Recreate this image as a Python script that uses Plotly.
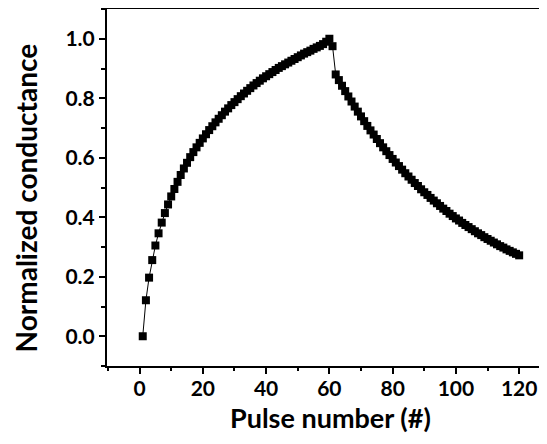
import plotly.graph_objects as go

pulse = list(range(1, 121))

potentiation = [
    0.000, 0.121, 0.197, 0.256, 0.305, 0.346, 0.382, 0.414, 0.443, 0.470,
    0.495, 0.519, 0.542, 0.564, 0.583, 0.602, 0.619, 0.635, 0.650, 0.665,
    0.679, 0.693, 0.706, 0.719, 0.731, 0.743, 0.755, 0.766, 0.777, 0.787,
    0.797, 0.807, 0.816, 0.825, 0.834, 0.843, 0.851, 0.859, 0.867, 0.874,
    0.881, 0.888, 0.895, 0.902, 0.908, 0.914, 0.920, 0.926, 0.932, 0.938,
    0.944, 0.950, 0.955, 0.960, 0.966, 0.971, 0.976, 0.982, 0.990, 1.000,
]

depression = [
    0.975, 0.880, 0.861, 0.842, 0.824, 0.806, 0.789, 0.772, 0.755, 0.739,
    0.723, 0.707, 0.692, 0.678, 0.663, 0.649, 0.635, 0.622, 0.609, 0.596,
    0.584, 0.572, 0.560, 0.548, 0.537, 0.526, 0.515, 0.505, 0.494, 0.484,
    0.475, 0.465, 0.456, 0.447, 0.438, 0.429, 0.421, 0.412, 0.404, 0.396,
    0.389, 0.381, 0.374, 0.367, 0.360, 0.353, 0.346, 0.340, 0.333, 0.327,
    0.321, 0.315, 0.309, 0.303, 0.298, 0.292, 0.287, 0.282, 0.277, 0.272,
]

conductance = potentiation + depression

x_ticks = [0, 20, 40, 60, 80, 100, 120]
y_ticks = [0.0, 0.2, 0.4, 0.6, 0.8, 1.0]

x_title = "Pulse number (#)"
y_title = "Normalized conductance"

tick_font = dict(family="Lato", size=21, color="black", weight="bold")
title_font = dict(family="Lato", size=27, color="black", weight="bold")
ytitle_font = dict(family="Lato", size=28, color="black", weight="bold")

fig = go.Figure()
fig.add_trace(go.Scatter(
    x=pulse, y=conductance, mode="lines+markers",
    line=dict(color="black", width=1),
    marker=dict(symbol="square", size=8, color="black"),
    showlegend=False, cliponaxis=False,
))

# the page body adds an 8px margin, so the figure is laid out 8px up/left
fig.update_layout(
    width=547, height=444,
    margin=dict(l=99, r=8, t=1, b=86, autoexpand=False),
    paper_bgcolor="white", plot_bgcolor="white",
)

fig.update_xaxes(
    range=[-10.3, 128.8], automargin=False,
    tickvals=x_ticks, ticktext=[str(v) for v in x_ticks],
    ticks="outside", ticklen=6, tickwidth=2, tickcolor="black",
    minor=dict(dtick=10, tick0=0, ticks="outside", ticklen=3, tickwidth=2, tickcolor="black"),
    showline=True, linewidth=2, linecolor="black", mirror="allticks",
    showgrid=False, zeroline=False,
    tickfont=tick_font, ticklabelstandoff=-3,
)

fig.update_yaxes(
    range=[-0.1, 1.1], automargin=False,
    tickvals=y_ticks, ticktext=["%.1f" % v for v in y_ticks],
    ticks="outside", ticklen=6, tickwidth=2, tickcolor="black",
    minor=dict(dtick=0.1, tick0=0, ticks="outside", ticklen=4, tickwidth=2, tickcolor="black"),
    showline=True, linewidth=2, linecolor="black",
    showgrid=False, zeroline=False,
    tickfont=tick_font,
)

fig.add_annotation(
    text=x_title, xref="paper", yref="paper", x=0.507, y=-0.143,
    xanchor="center", yanchor="middle", showarrow=False, font=title_font,
)
fig.add_annotation(
    text=y_title, xref="paper", yref="paper", x=-0.182, y=0.472,
    xanchor="center", yanchor="middle", showarrow=False, font=ytitle_font,
    textangle=-90,
)

fig.write_html("out.html")
